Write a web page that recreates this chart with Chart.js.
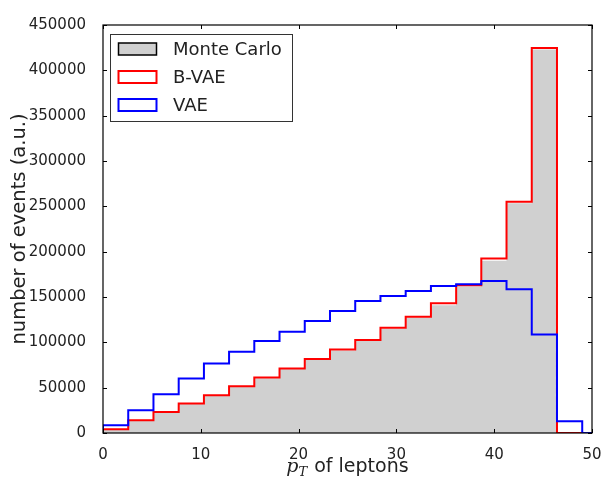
<!DOCTYPE html>
<html>
<head>
<meta charset="utf-8">
<script src="https://cdn.jsdelivr.net/npm/chart.js@4.4.1/dist/chart.umd.min.js"></script>
<style>
  html, body { margin: 0; padding: 0; background: #fff; }
  #wrap { width: 608px; height: 486px; }
</style>
</head>
<body>
<div id="wrap"><canvas id="hist" width="608" height="486"></canvas></div>
<script>
// bin edges of the pT histogram (19 bins, 0..49)
const binEdges = [0, 2.58, 5.16, 7.74, 10.32, 12.89, 15.47, 18.05, 20.63, 23.21,
                  25.79, 28.37, 30.95, 33.53, 36.11, 38.68, 41.26, 43.84, 46.42, 49.0];

const monteCarlo = [3500, 13500, 22500, 32000, 41000, 51000, 60500, 70500, 81000, 91000,
                    101500, 115000, 127500, 141000, 161500, 190000, 253500, 423000, 0];
const bVae       = [4000, 14000, 23200, 32400, 41700, 51600, 61200, 71100, 81500, 92000,
                    102500, 116100, 128300, 143000, 162900, 192400, 255100, 424600, 0];
const vae        = [8500, 25000, 42800, 60100, 76700, 89600, 101400, 111700, 123500, 134500,
                    145600, 151100, 156700, 162200, 164000, 167700, 158500, 108700, 12900];

const seriesNames = ['Monte Carlo', 'B-VAE', 'VAE'];
const xTicks = [0, 10, 20, 30, 40, 50];
const yTicks = [0, 50000, 100000, 150000, 200000, 250000, 300000, 350000, 400000, 450000];

const FONT = '"DejaVu Sans", sans-serif';
const TEXT = '#222';

// outline of a step histogram: up at first edge, across each bin, down at last edge
function stepPoints(values, tailX) {
    const pts = [{ x: binEdges[0], y: 0 }];
    values.forEach((v, i) => pts.push({ x: binEdges[i], y: v }));
    pts.push({ x: binEdges[values.length], y: values[values.length - 1] });
    pts.push({ x: binEdges[values.length], y: 0 });
    if (tailX !== undefined) pts.push({ x: tailX, y: 0 });
    return pts;
}

// box, inward ticks, axis titles, legend - matplotlib "classic" look
const decor = {
    id: 'decor',
    afterDatasetsDraw(chart) {
        const { ctx, chartArea: a, scales: { x, y } } = chart;
        ctx.save();
        ctx.strokeStyle = '#000';
        ctx.lineWidth = 1;
        ctx.beginPath();
        xTicks.forEach(v => {
            const px = Math.round(x.getPixelForValue(v)) + 0.5;
            ctx.moveTo(px, a.bottom); ctx.lineTo(px, a.bottom - 4);
            ctx.moveTo(px, a.top); ctx.lineTo(px, a.top + 4);
        });
        yTicks.forEach(v => {
            const py = Math.round(y.getPixelForValue(v)) + 0.5;
            ctx.moveTo(a.left, py); ctx.lineTo(a.left + 4, py);
            ctx.moveTo(a.right, py); ctx.lineTo(a.right - 4, py);
        });
        ctx.stroke();
        ctx.lineWidth = 1.2;
        ctx.strokeRect(a.left, a.top, a.right - a.left, a.bottom - a.top);
        ctx.restore();
    },
    afterDraw(chart) {
        const { ctx, chartArea: a } = chart;
        ctx.save();
        ctx.fillStyle = TEXT;

        // y title
        ctx.translate(20, (a.top + a.bottom) / 2);
        ctx.rotate(-Math.PI / 2);
        ctx.font = '19.5px ' + FONT;
        ctx.textAlign = 'center';
        ctx.textBaseline = 'middle';
        ctx.fillText('number of events (a.u.)', 0, 0);
        ctx.setTransform(1, 0, 0, 1, 0, 0);

        // x title: p_T of leptons
        const base = 472;
        const fMain = 'italic 19px "DejaVu Serif", serif';
        const fSub = 'italic 13px "DejaVu Serif", serif';
        const fText = '19px ' + FONT;
        ctx.textAlign = 'left';
        ctx.textBaseline = 'alphabetic';
        ctx.font = fMain; const wP = ctx.measureText('p').width;
        ctx.font = fSub; const wT = ctx.measureText('T').width;
        ctx.font = fText; const wRest = ctx.measureText(' of leptons').width;
        let cx = (a.left + a.right) / 2 - (wP + wT + 1 + wRest) / 2;
        ctx.font = fMain; ctx.fillText('p', cx, base); cx += wP;
        ctx.font = fSub; ctx.fillText('T', cx, base + 4); cx += wT + 1;
        ctx.font = fText; ctx.fillText(' of leptons', cx, base);

        // legend
        const lx = 110.5, ly = 34.5, lw = 182, lh = 87;
        ctx.fillStyle = '#fff';
        ctx.fillRect(lx, ly, lw, lh);
        ctx.strokeStyle = '#333';
        ctx.lineWidth = 1;
        ctx.strokeRect(lx, ly, lw, lh);
        const rows = [49, 77, 105];
        chart.data.datasets.forEach((ds, i) => {
            const ry = rows[i];
            ctx.fillStyle = i === 0 ? ds.backgroundColor : '#fff';
            ctx.fillRect(118.5, ry - 6, 38, 12);
            ctx.strokeStyle = i === 0 ? '#000' : ds.borderColor;
            ctx.lineWidth = i === 0 ? 1.5 : 2;
            ctx.strokeRect(118.5, ry - 6, 38, 12);
            ctx.fillStyle = TEXT;
            ctx.font = '18px ' + FONT;
            ctx.textBaseline = 'middle';
            ctx.fillText(ds.label, 173, ry + 1);
        });
        ctx.restore();
    }
};

new Chart(document.getElementById('hist'), {
    type: 'line',
    data: {
        datasets: [
            {
                label: seriesNames[0],
                data: stepPoints(monteCarlo),
                stepped: 'before',
                borderWidth: 0,
                borderColor: 'rgba(0,0,0,0)',
                backgroundColor: '#d0d0d0',
                fill: 'origin',
                pointRadius: 0,
                order: 3
            },
            {
                label: seriesNames[1],
                data: stepPoints(bVae),
                stepped: 'before',
                borderWidth: 2,
                borderColor: '#ff0000',
                borderJoinStyle: 'miter',
                fill: false,
                pointRadius: 0,
                order: 2
            },
            {
                label: seriesNames[2],
                data: stepPoints(vae, 50),
                stepped: 'before',
                borderWidth: 2,
                borderColor: '#0000ff',
                borderJoinStyle: 'miter',
                fill: false,
                pointRadius: 0,
                order: 1
            }
        ]
    },
    options: {
        responsive: false,
        animation: false,
        layout: { padding: { top: 25, right: 16, left: 0, bottom: 0 } },
        plugins: {
            legend: { display: false },
            tooltip: { enabled: false }
        },
        scales: {
            x: {
                type: 'linear',
                min: 0,
                max: 50,
                grid: { display: false },
                border: { display: false },
                afterBuildTicks: s => { s.ticks = xTicks.map(v => ({ value: v })); },
                afterFit: s => { s.height = 53; },
                ticks: {
                    font: { family: FONT, size: 15 },
                    color: TEXT,
                    padding: 5,
                    maxRotation: 0,
                    autoSkip: false,
                    callback: v => String(v)
                }
            },
            y: {
                min: 0,
                max: 450000,
                grid: { display: false },
                border: { display: false },
                afterBuildTicks: s => { s.ticks = yTicks.map(v => ({ value: v })); },
                afterFit: s => { s.width = 103; },
                ticks: {
                    font: { family: FONT, size: 15 },
                    color: TEXT,
                    padding: 9,
                    autoSkip: false,
                    callback: v => String(v)
                }
            }
        }
    },
    plugins: [decor]
});
</script>
</body>
</html>
